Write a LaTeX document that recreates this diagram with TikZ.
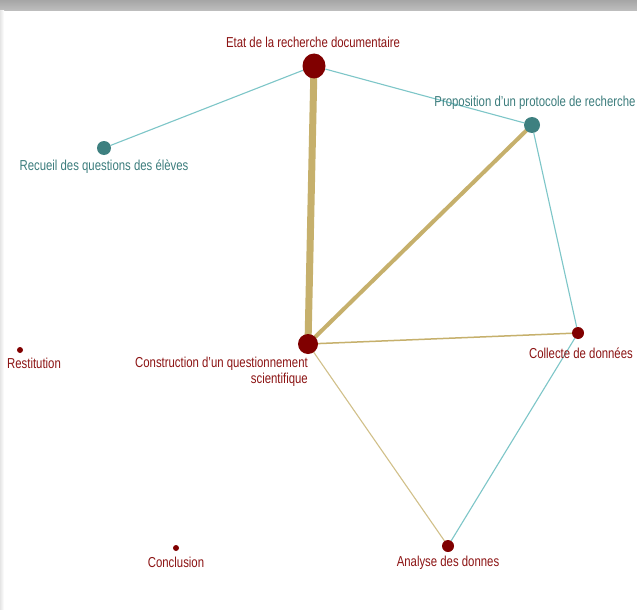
\documentclass[tikz,border=0pt]{standalone}
\usepackage{fontspec}
\setmainfont[FakeStretch=0.79]{Liberation Sans}
\usetikzlibrary{shapes.geometric,backgrounds}
\definecolor{dred}{RGB}{128,0,0}
\definecolor{tealnode}{RGB}{62,128,128}
\definecolor{tealline}{RGB}{125,198,200}
\definecolor{goldline}{RGB}{198,176,108}
\definecolor{labred}{RGB}{140,20,20}
\definecolor{labteal}{RGB}{60,125,125}
\tikzset{
  rednode/.style={circle,fill=dred,inner sep=0pt},
  tealdot/.style={circle,fill=tealnode,inner sep=0pt},
  redlab/.style={text=labred,font=\fontsize{14.4}{16}\selectfont,inner sep=0pt},
  teallab/.style={text=labteal,font=\fontsize{14.4}{16}\selectfont,inner sep=0pt},
  tline/.style={draw=tealline,line width=1.1pt},
  gline/.style={draw=goldline},
}
\begin{document}
\begin{tikzpicture}[x=1pt,y=-1pt]
\begin{scope}[on background layer]
\useasboundingbox (0,0) rectangle (637,610);
\fill[white] (0,0) rectangle (637,610);
\shade[top color=black!35,bottom color=black!25] (0,0) rectangle (637,11);
\shade[left color=black!10,right color=white] (0,11) rectangle (4,610);
\end{scope}
% nodes
\node[fill=dred,ellipse,inner sep=0pt,minimum width=23pt,minimum height=25pt] (etat) at (314,66) {};
\node[tealdot,minimum size=16pt] (prop) at (532,125) {};
\node[tealdot,minimum size=14pt] (rec) at (104,148) {};
\node[rednode,minimum size=20pt] (cons) at (308,344) {};
\node[rednode,minimum size=12pt] (coll) at (578,333) {};
\node[rednode,minimum size=12pt] (ana) at (448,546) {};
\node[rednode,minimum size=6pt] (conc) at (176,548) {};
\node[rednode,minimum size=6pt] (rest) at (20,350) {};
% labels
\node[redlab] (letat) at (313,42) {Etat de la recherche documentaire};
\node[teallab] (lprop) at (535,103) {Proposition d'un protocole de recherche};
\node[teallab] (lrec) at (104,167) {Recueil des questions des élèves};
\node[redlab,align=right,anchor=north east] (lcons) at (308,357) {Construction d'un questionnement\\scientifique};
\node[redlab] (lcoll) at (581,353) {Collecte de données};
\node[redlab] (lana) at (448,563) {Analyse des donnes};
\node[redlab] (lconc) at (176,562) {Conclusion};
\node[redlab] (lrest) at (34,363) {Restitution};
% edges behind nodes
\begin{scope}[on background layer]
\draw[tline] (etat) -- (rec);
\draw[tline] (etat) -- (prop);
\draw[tline] (prop) -- (coll);
\draw[tline] (coll) -- (ana);
\draw[gline,line width=7pt] (etat.center) -- (cons.center);
\draw[gline,line width=4pt] (prop.center) -- (cons.center);
\draw[gline,line width=1.5pt] (cons.center) -- (coll.center);
\draw[draw=goldline!80!white,line width=1.1pt] (cons.center) -- (ana.center);
\end{scope}
\end{tikzpicture}
\end{document}
